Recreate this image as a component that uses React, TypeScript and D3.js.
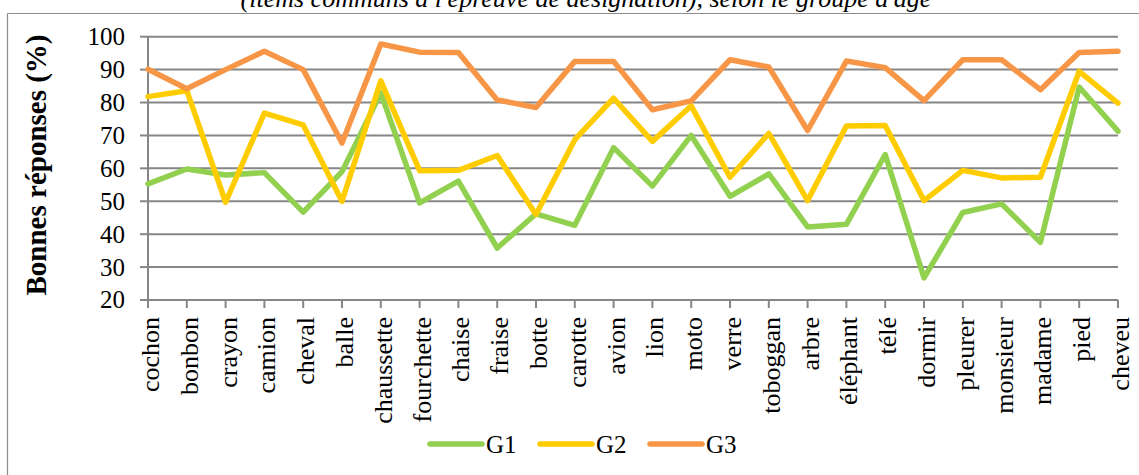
import React, { useMemo } from "react";
import * as d3 from "d3";

const WIDTH = 1139;
const HEIGHT = 475;
const MARGIN = { top: 36.7, right: 21, bottom: 175, left: 148 };

const CATEGORIES = [
  "cochon", "bonbon", "crayon", "camion", "cheval", "balle", "chaussette",
  "fourchette", "chaise", "fraise", "botte", "carotte", "avion", "lion",
  "moto", "verre", "toboggan", "arbre", "éléphant", "télé", "dormir",
  "pleurer", "monsieur", "madame", "pied", "cheveu",
];

const G1 = [
  55.3, 59.8, 58, 58.7, 46.7, 59, 82.9, 49.5, 56.1, 35.8, 46.2, 42.7, 66.3,
  54.6, 70, 51.5, 58.3, 42.2, 43, 64.2, 26.7, 46.6, 49.2, 37.5, 84.7, 71.3,
];
const G2 = [
  81.8, 83.6, 49.7, 76.8, 73.2, 50, 86.6, 59.3, 59.4, 63.9, 46, 68.7, 81.3,
  68.2, 79, 57.3, 70.6, 50.2, 72.9, 73, 50.2, 59.4, 57.1, 57.3, 89.5, 79.8,
];
const G3 = [
  90.1, 84.2, 90, 95.6, 90, 67.7, 97.8, 95.3, 95.2, 80.8, 78.5, 92.5, 92.5,
  77.8, 80.5, 93, 90.8, 71.5, 92.6, 90.6, 80.6, 93, 93, 83.9, 95.2, 95.6,
];

const SERIES_NAMES = ["G1", "G2", "G3"];
const SERIES_COLORS = ["#92D050", "#FFCC00", "#F79646"];
const Y_TICKS = [20, 30, 40, 50, 60, 70, 80, 90, 100];

const FONT = "'Liberation Serif', 'Times New Roman', serif";

const App = () => {
  const boundsWidth = WIDTH - MARGIN.left - MARGIN.right;
  const boundsHeight = 300 - MARGIN.top;

  const xScale = useMemo(
    () => d3.scalePoint<string>().domain(CATEGORIES).range([0, boundsWidth]),
    [boundsWidth]
  );
  const yScale = useMemo(
    () => d3.scaleLinear().domain([20, 100]).range([boundsHeight, 0]),
    [boundsHeight]
  );

  const lineGen = d3
    .line<number>()
    .x((_, i) => xScale(CATEGORIES[i]) ?? 0)
    .y((d) => yScale(d));

  const allSeries = [G1, G2, G3];

  return (
    <div style={{ position: "absolute", left: 0, top: 0 }}>
      <svg width={WIDTH} height={HEIGHT} style={{ display: "block", background: "#fff" }}>
        {/* frame */}
        <line x1={7.5} x2={WIDTH} y1={13.5} y2={13.5} stroke="#8c8c8c" strokeWidth={1.2} />
        <line x1={7.5} x2={7.5} y1={13.5} y2={HEIGHT} stroke="#8c8c8c" strokeWidth={1.2} />

        {/* title, cut off at the top like the source */}
        <text
          x={586}
          y={7}
          textAnchor="middle"
          fontFamily={FONT}
          fontStyle="italic"
          fontSize={26}
        >
          (items communs à l'épreuve de désignation), selon le groupe d'âge
        </text>

        <g transform={`translate(${MARGIN.left},${MARGIN.top})`}>
          {/* grid */}
          {Y_TICKS.map((t) => (
            <g key={t}>
              {t > 20 && (
                <line x1={0} x2={boundsWidth} y1={yScale(t)} y2={yScale(t)} stroke="#868686" strokeWidth={2} />
              )}
              <line x1={-8} x2={0} y1={yScale(t)} y2={yScale(t)} stroke="#868686" strokeWidth={2} />
              <text
                x={-23}
                y={yScale(t)}
                dy="0.34em"
                textAnchor="end"
                fontFamily={FONT}
                fontSize={25}
                fill="#000"
              >
                {t}
              </text>
            </g>
          ))}
          {/* axes */}
          <line x1={0} x2={0} y1={0} y2={boundsHeight} stroke="#868686" strokeWidth={2} />
          <line x1={0} x2={boundsWidth} y1={boundsHeight} y2={boundsHeight} stroke="#868686" strokeWidth={2} />
          {CATEGORIES.map((c) => (
            <g key={c}>
              <line
                x1={xScale(c)}
                x2={xScale(c)}
                y1={boundsHeight}
                y2={boundsHeight + 8}
                stroke="#868686"
                strokeWidth={2}
              />
              <text
                transform={`translate(${(xScale(c) ?? 0) + 11},${boundsHeight + 17}) rotate(-90)`}
                textAnchor="end"
                fontFamily={FONT}
                fontSize={26}
                fill="#000"
              >
                {c}
              </text>
            </g>
          ))}

          {/* lines */}
          {allSeries.map((s, i) => (
            <path
              key={SERIES_NAMES[i]}
              d={lineGen(s) ?? ""}
              fill="none"
              stroke={SERIES_COLORS[i]}
              strokeWidth={5.5}
              strokeLinejoin="round"
              strokeLinecap="round"
            />
          ))}
        </g>

        {/* y axis title */}
        <text
          transform="translate(46,165) rotate(-90)"
          textAnchor="middle"
          fontFamily={FONT}
          fontWeight="bold"
          fontSize={29}
        >
          Bonnes réponses (%)
        </text>

        {/* legend */}
        {SERIES_NAMES.map((name, i) => {
          const lx = 430 + i * 110;
          return (
            <g key={name}>
              <line x1={lx} x2={lx + 52} y1={444} y2={444} stroke={SERIES_COLORS[i]} strokeWidth={5.5} strokeLinecap="round" />
              <text x={lx + 56} y={453} fontFamily={FONT} fontSize={25}>
                {name}
              </text>
            </g>
          );
        })}
      </svg>
    </div>
  );
};

export default App;
